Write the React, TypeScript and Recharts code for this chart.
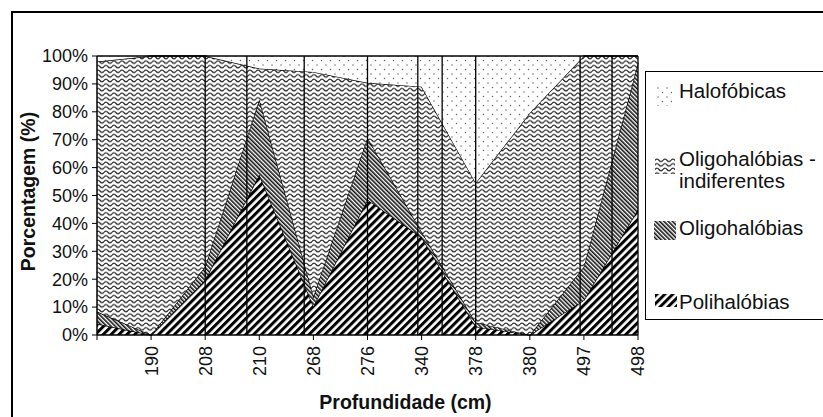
import React from "react";
import { AreaChart, Area, XAxis, YAxis, ReferenceLine } from "recharts";

// profundidades (cm) — a primeira amostra não tem rótulo no original
const depths = ["", "190", "208", "210", "268", "276", "340", "378", "380", "497", "498"];

// porcentagens por grupo (empilhadas de baixo para cima)
const polihalobias = [4, 0, 19.7, 57.5, 10.2, 48.5, 35, 3, 0, 12.5, 45];
const oligohalobias = [4.4, 0, 4.8, 27, 3.6, 22.2, 2, 1.5, 0, 12, 52.5];
const indiferentes = [89.6, 100, 75.5, 11, 80.5, 19.7, 52, 50, 79.6, 75.5, 2.5];
const halofobicas = [2, 0, 0, 4.5, 5.7, 9.6, 11, 45.5, 20.4, 0, 0];

const yTicks = [0, 10, 20, 30, 40, 50, 60, 70, 80, 90, 100];
// linhas verticais do gráfico original (em posição de amostra)
const dividers = [2, 2.77, 3.83, 5, 5.93, 6.38, 7, 8.93, 9.52, 10];

const data = depths.map((d, i) => ({
  i,
  depth: d,
  poli: polihalobias[i],
  oligo: oligohalobias[i],
  indif: indiferentes[i],
  halo: halofobicas[i],
}));

const FONT = "'Liberation Sans', Arial, Helvetica, sans-serif";

const legendItems = [
  { key: "halo", lines: ["Halofóbicas"], fill: "url(#pHalo)", top: 8, icon: { l: 10, t: 14, w: 16, h: 20 } },
  { key: "indif", lines: ["Oligohalóbias -", "indiferentes"], fill: "url(#pIndif)", top: 76, icon: { l: 9, t: 86, w: 20, h: 16 } },
  { key: "oligo", lines: ["Oligohalóbias"], fill: "url(#pOligo)", top: 145, icon: { l: 8, t: 149, w: 22, h: 19 } },
  { key: "poli", lines: ["Polihalóbias"], fill: "url(#pPoli)", top: 219, icon: { l: 9, t: 222, w: 22, h: 13 } },
];

function Patterns() {
  return (
    <svg width={0} height={0} style={{ position: "absolute" }}>
      <defs>
        <pattern id="pPoli" width={5.6} height={5.6} patternUnits="userSpaceOnUse" patternTransform="rotate(45)">
          <rect width={5.6} height={5.6} fill="#fff" />
          <line x1={1.5} y1={0} x2={1.5} y2={5.6} stroke="#000" strokeWidth={3} />
        </pattern>
        <pattern id="pOligo" width={3} height={3} patternUnits="userSpaceOnUse" patternTransform="rotate(-45)">
          <rect width={3} height={3} fill="#fff" />
          <line x1={0.8} y1={0} x2={0.8} y2={3} stroke="#111" strokeWidth={1.6} />
        </pattern>
        <pattern id="pIndif" width={8} height={4.6} patternUnits="userSpaceOnUse">
          <rect width={8} height={4.6} fill="#fff" />
          <path d="M0 2.3 C1.3 0.6 2.7 0.6 4 2.3 S6.7 4 8 2.3" fill="none" stroke="#222" strokeWidth={1.2} />
        </pattern>
        <pattern id="pHalo" width={9} height={9} patternUnits="userSpaceOnUse">
          <rect width={9} height={9} fill="#fff" />
          <circle cx={2} cy={2} r={0.75} fill="#666" />
          <circle cx={6.5} cy={6.5} r={0.75} fill="#666" />
        </pattern>
      </defs>
    </svg>
  );
}

const DepthTick = ({ x, y, payload }: any) => (
  <text
    x={x}
    y={y}
    dy="0.36em"
    transform={`rotate(-90 ${x} ${y})`}
    textAnchor="end"
    fontSize={18}
    fontFamily={FONT}
    fill="#111"
  >
    {depths[payload.value]}
  </text>
);

export default function App() {
  return (
    <div
      style={{
        position: "absolute",
        left: 0,
        top: 0,
        width: 823,
        height: 417,
        overflow: "hidden",
        background: "#fff",
        fontFamily: FONT,
      }}
    >
      <Patterns />
      <div
        style={{
          position: "absolute",
          left: 11,
          top: 11,
          width: 830,
          height: 420,
          borderTop: "2px solid #000",
          borderLeft: "2px solid #000",
        }}
      />
      <div style={{ position: "absolute", left: 0, top: 0 }}>
        <AreaChart
          width={823}
          height={417}
          data={data}
          margin={{ top: 56, right: 185, bottom: 42, left: 27 }}
        >
          <XAxis
            type="number"
            dataKey="i"
            domain={[0, 10]}
            ticks={data.map((d) => d.i)}
            interval={0}
            height={40}
            tickSize={5}
            tickMargin={6}
            tick={<DepthTick />}
            axisLine={{ stroke: "#000", strokeWidth: 1.5 }}
            tickLine={{ stroke: "#000" }}
            label={{
              content: ({ viewBox }: any) => (
                <text
                  x={viewBox.x + viewBox.width / 2 + 38}
                  y={viewBox.y + 74}
                  textAnchor="middle"
                  fontSize={19.5}
                  fontWeight="bold"
                  fontFamily={FONT}
                  fill="#111"
                >
                  Profundidade (cm)
                </text>
              ),
            }}
          />
          <YAxis
            type="number"
            domain={[0, 100]}
            ticks={yTicks}
            width={70}
            tickSize={5}
            tickMargin={4}
            tickFormatter={(v) => `${v}%`}
            tick={{ fontSize: 18, fill: "#111", fontFamily: FONT }}
            axisLine={{ stroke: "#000", strokeWidth: 1.5 }}
            tickLine={{ stroke: "#000" }}
            label={{
              content: ({ viewBox }: any) => {
                const cx = viewBox.x + 1;
                const cy = viewBox.y + viewBox.height / 2 - 4;
                return (
                  <text
                    x={cx}
                    y={cy}
                    dy="0.36em"
                    transform={`rotate(-90 ${cx} ${cy})`}
                    textAnchor="middle"
                    fontSize={19.5}
                    fontWeight="bold"
                    fontFamily={FONT}
                    fill="#111"
                  >
                    Porcentagem (%)
                  </text>
                );
              },
            }}
          />
          <Area type="linear" dataKey="poli" stackId="1" stroke="#000" strokeWidth={1.3} fill="url(#pPoli)" fillOpacity={1} isAnimationActive={false} />
          <Area type="linear" dataKey="oligo" stackId="1" stroke="#000" strokeWidth={1.3} fill="url(#pOligo)" fillOpacity={1} isAnimationActive={false} />
          <Area type="linear" dataKey="indif" stackId="1" stroke="#000" strokeWidth={1.3} fill="url(#pIndif)" fillOpacity={1} isAnimationActive={false} />
          <Area type="linear" dataKey="halo" stackId="1" stroke="#000" strokeWidth={1.6} fill="url(#pHalo)" fillOpacity={1} isAnimationActive={false} />
          {dividers.map((x) => (
            <ReferenceLine key={x} x={x} stroke="#000" strokeWidth={1.3} />
          ))}
        </AreaChart>
      </div>
      <div
        style={{
          position: "absolute",
          left: 645,
          top: 71,
          width: 190,
          height: 249,
          border: "1px solid #000",
          boxSizing: "border-box",
          fontSize: 20.5,
          color: "#111",
        }}
      >
        {legendItems.map((it) => (
          <React.Fragment key={it.key}>
            <svg
              width={it.icon.w}
              height={it.icon.h}
              style={{ position: "absolute", left: it.icon.l, top: it.icon.t }}
            >
              <rect width={it.icon.w} height={it.icon.h} fill={it.fill} />
            </svg>
            <div style={{ position: "absolute", left: 33, top: it.top, lineHeight: "22px", whiteSpace: "nowrap" }}>
              {it.lines.map((l) => (
                <div key={l}>{l}</div>
              ))}
            </div>
          </React.Fragment>
        ))}
      </div>
    </div>
  );
}
